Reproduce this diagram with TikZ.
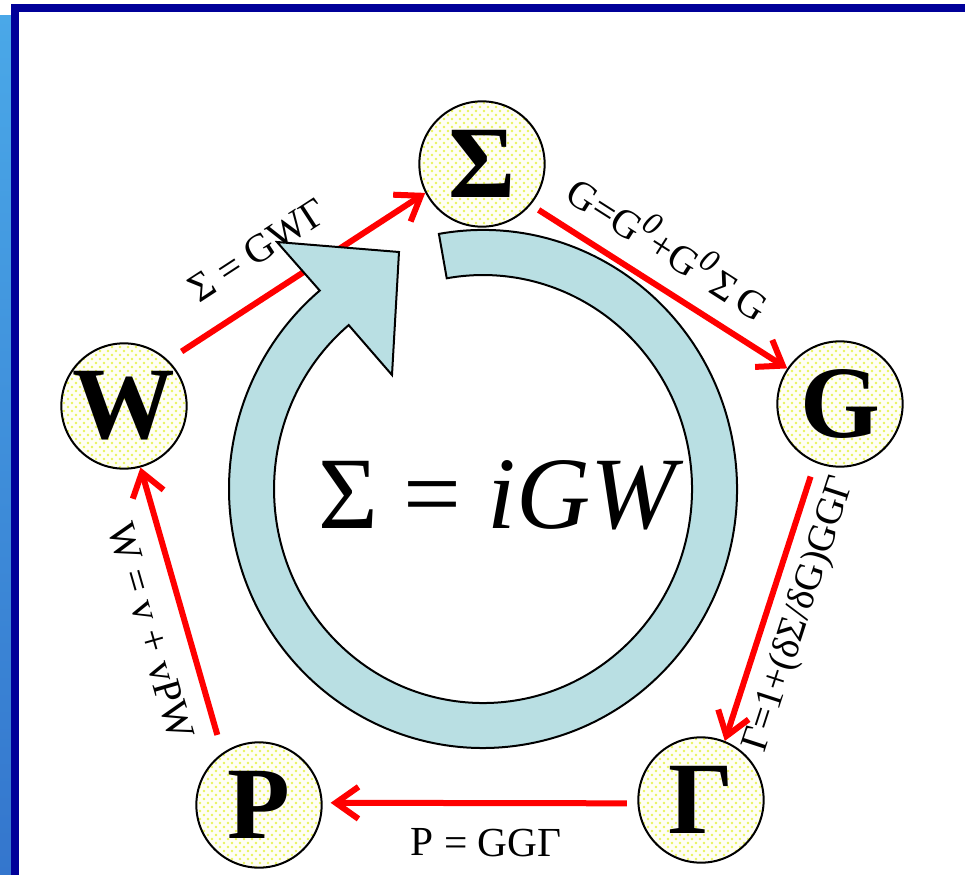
\documentclass[tikz,border=0pt]{standalone}
\usepackage{fontspec}
\setmainfont{Liberation Serif}
\usetikzlibrary{arrows.meta,patterns.meta}
\definecolor{ringblue}{RGB}{185,223,227}
\definecolor{framenavy}{RGB}{0,0,153}
\definecolor{dotyellow}{RGB}{232,244,90}
\definecolor{stripblue}{RGB}{74,168,232}
\definecolor{stripdark}{RGB}{52,118,205}
\newcommand{\supzero}{\raisebox{0.42em}{\fontsize{24}{24}\selectfont\itshape 0}}

\begin{document}
\begin{tikzpicture}[x=0.75pt, y=-0.75pt,
        state/.style={circle, draw, line width=1.5pt, minimum size=94pt, inner sep=0pt,
        preaction={fill=yellow!4},
        preaction={pattern={Dots[distance=6pt,radius=1.05pt]}, pattern color=dotyellow},
        pattern={Dots[distance=6pt,radius=1.05pt,xshift=3pt,yshift=3pt]}, pattern color=dotyellow,
        font=\fontsize{77}{77}\selectfont\bfseries},
        arrow/.style={-{Straight Barb[length=17pt,width=24pt]}, draw=red, line width=4.5pt},
        eqlabel/.style={font=\fontsize{30}{30}\selectfont, inner sep=0pt, sloped}
    ]
    % slide frame
    \fill[white] (0,0) rectangle (965,875);
    \shade[top color=stripblue, bottom color=stripdark] (0,15) rectangle (11,875);
    \fill[framenavy] (11,4) rectangle (19,875);
    \fill[framenavy] (11,4) rectangle (965,12);

    \node[state] (S)  at (482,164) {\makebox[0pt]{Σ}};
    \node[state] (G)  at (840,404) {\makebox[0pt]{G}};
    \node[state] (Ga) at (701,800) {\makebox[0pt]{Γ}};
    \node[state] (P)  at (259,805) {\makebox[0pt]{P}};
    \node[state] (W)  at (124,406) {\makebox[0pt]{W}};

    \draw[arrow, shorten <=12pt] (W.46)  -- node[eqlabel, pos=0.44, above=20pt] {Σ = GWΓ} (S.207);
    \draw[arrow, shorten <=7pt]  (S.-40) -- node[eqlabel, pos=0.46, above=14pt]
        {G=G\supzero+G\supzero\,Σ\,G} (G.146);
    \draw[arrow, shorten <=11pt] (G.247) -- node[eqlabel, pos=0.51, below=9pt,
        font=\fontsize{29}{29}\selectfont] {Γ=1+(δΣ/δG)GGΓ} (Ga.68);
    \draw[arrow, shorten <=8pt, shorten >=6pt] (Ga.183) -- node[eqlabel, pos=0.48, below=17pt,
        font=\fontsize{31}{31}\selectfont] {P = GGΓ} (P.2);
    \draw[arrow, shorten <=14pt] (P.125) -- node[eqlabel, pos=0.46, below=14pt] {W = v + vPW} (W.-75);

    % self-consistency loop
    \draw[line width=1.5pt, fill=ringblue]
        (438.9,233.9) arc[start angle=-100, end angle=230, x radius=254, y radius=259]
        -- (277,242) -- (399,252) -- (392,375) -- (348.7,325.1)
        arc[start angle=230, end angle=-100, x radius=209, y radius=214] -- cycle;

    \node[font=\fontsize{77}{77}\selectfont, anchor=base] (eq) at (501,528) {Σ = \textit{iGW}};
\end{tikzpicture}
\end{document}
